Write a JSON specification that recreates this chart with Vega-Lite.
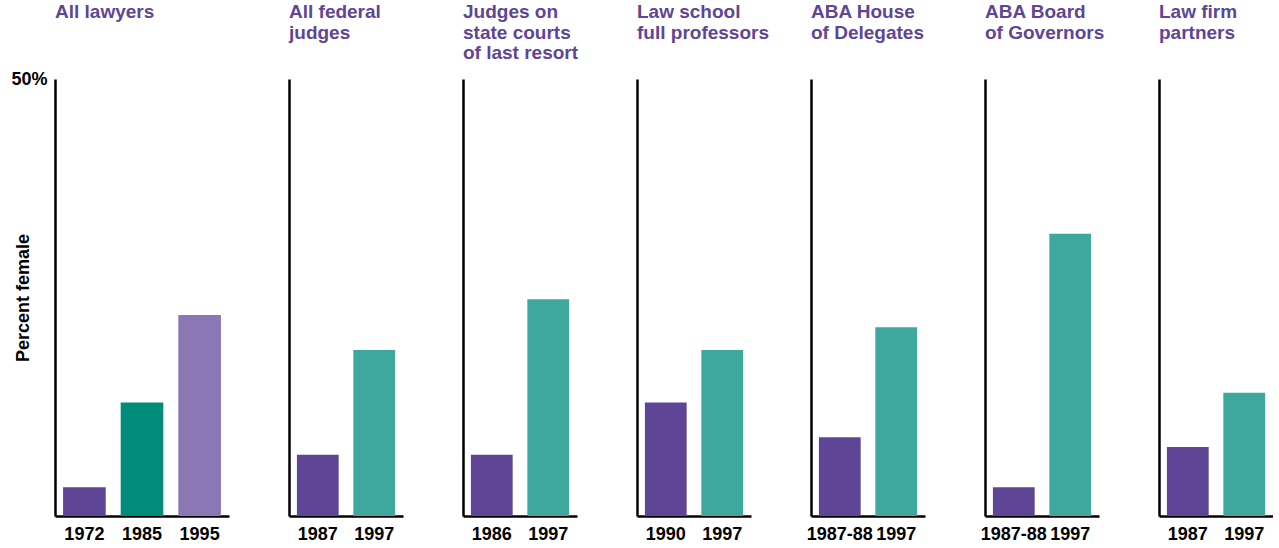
{
  "$schema": "https://vega.github.io/schema/vega-lite/v6.json",
  "background": "white",
  "padding": {"left": 10, "top": 3, "right": 0, "bottom": 0},
  "spacing": 60,
  "bounds": "flush",
  "data": {"values": [
    {"group": "All lawyers", "year": "1972", "pct": 3.3},
    {"group": "All lawyers", "year": "1985", "pct": 13},
    {"group": "All lawyers", "year": "1995", "pct": 23},
    {"group": "All federal judges", "year": "1987", "pct": 7},
    {"group": "All federal judges", "year": "1997", "pct": 19},
    {"group": "Judges on state courts of last resort", "year": "1986", "pct": 7},
    {"group": "Judges on state courts of last resort", "year": "1997", "pct": 24.8},
    {"group": "Law school full professors", "year": "1990", "pct": 13},
    {"group": "Law school full professors", "year": "1997", "pct": 19},
    {"group": "ABA House of Delegates", "year": "1987-88", "pct": 9},
    {"group": "ABA House of Delegates", "year": "1997", "pct": 21.6},
    {"group": "ABA Board of Governors", "year": "1987-88", "pct": 3.3},
    {"group": "ABA Board of Governors", "year": "1997", "pct": 32.3},
    {"group": "Law firm partners", "year": "1987", "pct": 7.9},
    {"group": "Law firm partners", "year": "1997", "pct": 14.1}
  ]},
  "config": {
    "view": {"stroke": null},
    "font": "Liberation Sans",
    "title": {"anchor": "start", "frame": "group", "font": "Liberation Sans", "fontSize": 19, "fontWeight": "bold", "color": "#5e4596", "lineHeight": 20.5, "offset": 7},
    "axis": {"domainColor": "black", "domainWidth": 2.5, "ticks": false, "grid": false, "labelFont": "Liberation Sans", "labelFontSize": 18, "labelFontWeight": "bold", "labelColor": "black", "titleFont": "Liberation Sans", "titleColor": "black", "titleFontWeight": "bold"},
    "axisX": {"labelAngle": 0, "labelPadding": 9, "title": null},
    "axisY": {"labelPadding": 8, "labelFlush": false},
    "bar": {"stroke": null}
  },
  "hconcat": [
    {
      "title": {"text": ["All lawyers", "", ""]},
      "width": 174, "height": 437,
      "transform": [{"filter": "datum.group === 'All lawyers'"}],
      "mark": {"type": "bar"},
      "encoding": {
        "x": {"field": "year", "type": "nominal", "sort": null, "scale": {"paddingInner": 0.26, "paddingOuter": 0.14}},
        "y": {"field": "pct", "type": "quantitative", "scale": {"domain": [0, 50], "nice": false}, "axis": {"values": [50], "labelExpr": "'50%'", "title": "Percent female", "titleFontSize": 18, "titlePadding": -22}},
        "color": {"field": "year", "type": "nominal", "legend": null, "scale": {"domain": ["1972", "1985", "1995"], "range": ["#5e4596", "#008b7a", "#8b77b3"]}}
      }
    },
    {
      "title": {"text": ["All federal", "judges", ""]},
      "width": 114, "height": 437,
      "transform": [{"filter": "datum.group === 'All federal judges'"}],
      "mark": {"type": "bar"},
      "encoding": {
        "x": {"field": "year", "type": "nominal", "sort": null, "scale": {"paddingInner": 0.26, "paddingOuter": 0.14}},
        "y": {"field": "pct", "type": "quantitative", "scale": {"domain": [0, 50], "nice": false}, "axis": {"values": [50], "labelExpr": "'50%'", "labelOpacity": 0, "title": null}},
        "color": {"condition": {"test": "datum.year === '1997'", "value": "#3fa89e"}, "value": "#5e4596"}
      }
    },
    {
      "title": {"text": ["Judges on", "state courts", "of last resort"]},
      "width": 114, "height": 437,
      "transform": [{"filter": "datum.group === 'Judges on state courts of last resort'"}],
      "mark": {"type": "bar"},
      "encoding": {
        "x": {"field": "year", "type": "nominal", "sort": null, "scale": {"paddingInner": 0.26, "paddingOuter": 0.14}},
        "y": {"field": "pct", "type": "quantitative", "scale": {"domain": [0, 50], "nice": false}, "axis": {"values": [50], "labelExpr": "'50%'", "labelOpacity": 0, "title": null}},
        "color": {"condition": {"test": "datum.year === '1997'", "value": "#3fa89e"}, "value": "#5e4596"}
      }
    },
    {
      "title": {"text": ["Law school", "full professors", ""]},
      "width": 114, "height": 437,
      "transform": [{"filter": "datum.group === 'Law school full professors'"}],
      "mark": {"type": "bar"},
      "encoding": {
        "x": {"field": "year", "type": "nominal", "sort": null, "scale": {"paddingInner": 0.26, "paddingOuter": 0.14}},
        "y": {"field": "pct", "type": "quantitative", "scale": {"domain": [0, 50], "nice": false}, "axis": {"values": [50], "labelExpr": "'50%'", "labelOpacity": 0, "title": null}},
        "color": {"condition": {"test": "datum.year === '1997'", "value": "#3fa89e"}, "value": "#5e4596"}
      }
    },
    {
      "title": {"text": ["ABA House", "of Delegates", ""]},
      "width": 114, "height": 437,
      "transform": [{"filter": "datum.group === 'ABA House of Delegates'"}],
      "mark": {"type": "bar"},
      "encoding": {
        "x": {"field": "year", "type": "nominal", "sort": null, "scale": {"paddingInner": 0.26, "paddingOuter": 0.14}},
        "y": {"field": "pct", "type": "quantitative", "scale": {"domain": [0, 50], "nice": false}, "axis": {"values": [50], "labelExpr": "'50%'", "labelOpacity": 0, "title": null}},
        "color": {"condition": {"test": "datum.year === '1997'", "value": "#3fa89e"}, "value": "#5e4596"}
      }
    },
    {
      "title": {"text": ["ABA Board", "of Governors", ""]},
      "width": 114, "height": 437,
      "transform": [{"filter": "datum.group === 'ABA Board of Governors'"}],
      "mark": {"type": "bar"},
      "encoding": {
        "x": {"field": "year", "type": "nominal", "sort": null, "scale": {"paddingInner": 0.26, "paddingOuter": 0.14}},
        "y": {"field": "pct", "type": "quantitative", "scale": {"domain": [0, 50], "nice": false}, "axis": {"values": [50], "labelExpr": "'50%'", "labelOpacity": 0, "title": null}},
        "color": {"condition": {"test": "datum.year === '1997'", "value": "#3fa89e"}, "value": "#5e4596"}
      }
    },
    {
      "title": {"text": ["Law firm", "partners", ""]},
      "width": 114, "height": 437,
      "transform": [{"filter": "datum.group === 'Law firm partners'"}],
      "mark": {"type": "bar"},
      "encoding": {
        "x": {"field": "year", "type": "nominal", "sort": null, "scale": {"paddingInner": 0.26, "paddingOuter": 0.14}},
        "y": {"field": "pct", "type": "quantitative", "scale": {"domain": [0, 50], "nice": false}, "axis": {"values": [50], "labelExpr": "'50%'", "labelOpacity": 0, "title": null}},
        "color": {"condition": {"test": "datum.year === '1997'", "value": "#3fa89e"}, "value": "#5e4596"}
      }
    }
  ]
}
